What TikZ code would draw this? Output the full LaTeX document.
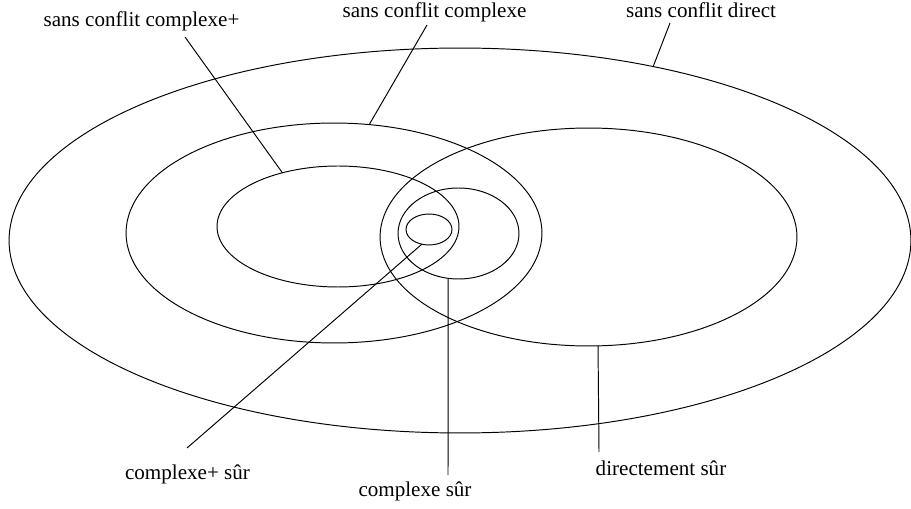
\documentclass[tikz,border=0pt]{standalone}
\usepackage{fontspec}
\setmainfont{Liberation Serif}
\usetikzlibrary{shapes.geometric, positioning, calc}
\tikzset{
  setoval/.style={ellipse, draw=black, inner sep=0pt, outer sep=0pt,
    line width=0.55pt},
  setlabel/.style={inner sep=0pt, anchor=base, font=\fontsize{12}{14}\selectfont},
  pointer/.style={line width=0.55pt, color=black}
}

\begin{document}
\begin{tikzpicture}[x=0.02cm, y=-0.02cm]
  \useasboundingbox (0,0) rectangle (911,509);

  % Ellipses
  \node[setoval, minimum width=18.04cm, minimum height=7.70cm] (direct) at (460,240.5) {};
  \node[setoval, minimum width=8.32cm, minimum height=4.40cm] (cplx) at (334,233) {};
  \node[setoval, minimum width=4.84cm, minimum height=2.42cm] (cplxp) at (338,226.5) {};
  \node[setoval, minimum width=8.34cm, minimum height=4.36cm] (dsur) at (588.5,237) {};
  \node[setoval, minimum width=2.42cm, minimum height=1.82cm] (csur) at (458.5,233.5) {};
  \node[setoval, minimum width=0.92cm, minimum height=0.62cm] (cpsur) at (429,229.5) {};

  % Labels
  \node[setlabel] (lcplxp) at (141.5,27) {sans conflit complexe+};
  \node[setlabel] (lcplx) at (434.5,18) {sans conflit complexe};
  \node[setlabel] (ldirect) at (701,18) {sans conflit direct};
  \node[setlabel] (lcpsur) at (187.5,479) {complexe+ sûr};
  \node[setlabel] (lcsur) at (415,496) {complexe sûr};
  \node[setlabel] (ldsur) at (661,475) {directement sûr};

  % Pointers
  \draw[pointer] (lcplxp.base) ++(43.5,10) -- (cplxp.136.3);
  \draw[pointer] (lcplx.base) ++(-7.5,7) -- (cplx.72.7);
  \draw[pointer] (ldirect.base) ++(-31,5) -- (direct.42.7);
  \draw[pointer] (lcpsur.base) ++(-0.5,-31) -- (cpsur.244.2);
  \draw[pointer] (lcsur.base) ++(33,-21) -- (csur.257);
  \draw[pointer] (ldsur.base) ++(-62,-23) -- (dsur.275.5);
\end{tikzpicture}
\end{document}
